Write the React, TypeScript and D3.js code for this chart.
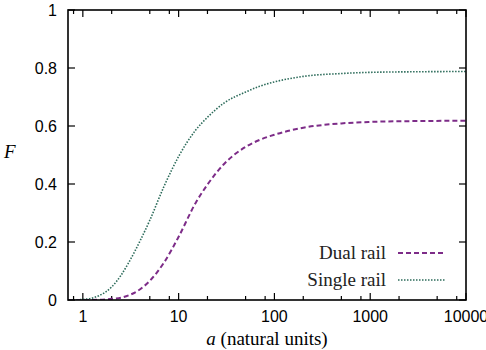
import React from "react";
import * as d3 from "d3";

// values
const aValues = [0.7, 1, 1.5, 2, 2.5, 3, 4, 5, 7, 10, 15, 20, 30, 50, 70, 100, 200, 500, 1000, 3000, 10000];
const dualRail = [0, 0, 0.001, 0.004, 0.008, 0.016, 0.038, 0.066, 0.128, 0.218, 0.334, 0.398, 0.47, 0.528, 0.552, 0.57, 0.594, 0.609, 0.614, 0.617, 0.618];
const singleRail = [0, 0.002, 0.016, 0.045, 0.085, 0.128, 0.207, 0.275, 0.39, 0.495, 0.585, 0.63, 0.68, 0.717, 0.737, 0.752, 0.771, 0.781, 0.785, 0.787, 0.788];

const yTicks = [0, 0.2, 0.4, 0.6, 0.8, 1];
const yTickLabels = ["0", "0.2", "0.4", "0.6", "0.8", "1"];
const xTicks = [1, 10, 100, 1000, 10000];
const xTickLabels = ["1", "10", "100", "1000", "10000"];
const xMinorTicks = [0.8, 2, 5, 8, 20, 50, 80, 200, 500, 800, 2000, 5000, 8000];

const seriesNames = ["Dual rail", "Single rail"];

const W = 486;
const H = 350;
const margin = { top: 10, right: 20, bottom: 50, left: 68 };

const sans = "'Liberation Sans', Arial, Helvetica, sans-serif";
const serif = "'Liberation Serif', 'Times New Roman', serif";

const purple = "#7d2c88";
const green = "#2c6b5a";

export default function App() {
  const x = d3.scaleLog().domain([0.7, 10000]).range([margin.left, W - margin.right]);
  const y = d3.scaleLinear().domain([0, 1]).range([H - margin.bottom, margin.top]);

  const line = d3
    .line<number>()
    .x((_, i) => x(aValues[i]))
    .y((d) => y(d))
    .curve(d3.curveMonotoneX);

  const x0 = x.range()[0];
  const x1 = x.range()[1];
  const y0 = y.range()[0];
  const y1 = y.range()[1];
  const major = 7;
  const minor = 4;

  const legendX1 = 398;
  const legendX2 = 446;
  const legendY = [253, 280];

  return (
    <svg
      width={W}
      height={H}
      style={{ position: "absolute", left: 0, top: 0, background: "white" }}
    >
      <defs>
        <clipPath id="plot">
          <rect x={x0} y={y1} width={x1 - x0} height={y0 - y1} />
        </clipPath>
      </defs>

      {/* y ticks, mirrored on right */}
      {yTicks.map((t, i) => (
        <g key={"y" + t}>
          <line x1={x0} x2={x0 + major} y1={y(t)} y2={y(t)} stroke="black" strokeWidth={1.2} />
          <line x1={x1} x2={x1 - major} y1={y(t)} y2={y(t)} stroke="black" strokeWidth={1.2} />
          <text
            x={x0 - 11}
            y={y(t)}
            dy="0.36em"
            textAnchor="end"
            fontFamily={sans}
            fontSize={16}
          >
            {yTickLabels[i]}
          </text>
        </g>
      ))}

      {/* x ticks, mirrored on top */}
      {xTicks.map((t, i) => (
        <g key={"x" + t}>
          <line x1={x(t)} x2={x(t)} y1={y0} y2={y0 - major} stroke="black" strokeWidth={1.2} />
          <line x1={x(t)} x2={x(t)} y1={y1} y2={y1 + major} stroke="black" strokeWidth={1.2} />
          <text x={x(t)} y={y0 + 22} textAnchor="middle" fontFamily={sans} fontSize={16}>
            {xTickLabels[i]}
          </text>
        </g>
      ))}
      {xMinorTicks.map((t) => (
        <g key={"m" + t}>
          <line x1={x(t)} x2={x(t)} y1={y0} y2={y0 - minor} stroke="black" strokeWidth={1.2} />
          <line x1={x(t)} x2={x(t)} y1={y1} y2={y1 + minor} stroke="black" strokeWidth={1.2} />
        </g>
      ))}

      {/* curves */}
      <g clipPath="url(#plot)">
        <path d={line(dualRail) ?? ""} fill="none" stroke={purple} strokeWidth={2} strokeDasharray="5,3" />
        <path d={line(singleRail) ?? ""} fill="none" stroke={green} strokeWidth={1.6} strokeDasharray="1.5,1.5" />
      </g>

      {/* frame */}
      <rect x={x0} y={y1} width={x1 - x0} height={y0 - y1} fill="none" stroke="black" strokeWidth={1.6} />

      {/* legend */}
      {seriesNames.map((name, i) => (
        <g key={name}>
          <text
            x={386}
            y={legendY[i] + 6}
            textAnchor="end"
            fontFamily={serif}
            fontSize={19}
            fill="#222"
          >
            {name}
          </text>
          <line
            x1={legendX1}
            x2={legendX2}
            y1={legendY[i]}
            y2={legendY[i]}
            stroke={i === 0 ? purple : green}
            strokeWidth={i === 0 ? 2 : 1.6}
            strokeDasharray={i === 0 ? "5,3" : "1.5,1.5"}
          />
        </g>
      ))}

      {/* axis labels */}
      <text x={4} y={158} fontFamily={serif} fontStyle="italic" fontSize={19}>
        F
      </text>
      <text x={(x0 + x1) / 2} y={345} textAnchor="middle" fontFamily={serif} fontSize={19}>
        <tspan fontStyle="italic">a</tspan> (natural units)
      </text>
    </svg>
  );
}
